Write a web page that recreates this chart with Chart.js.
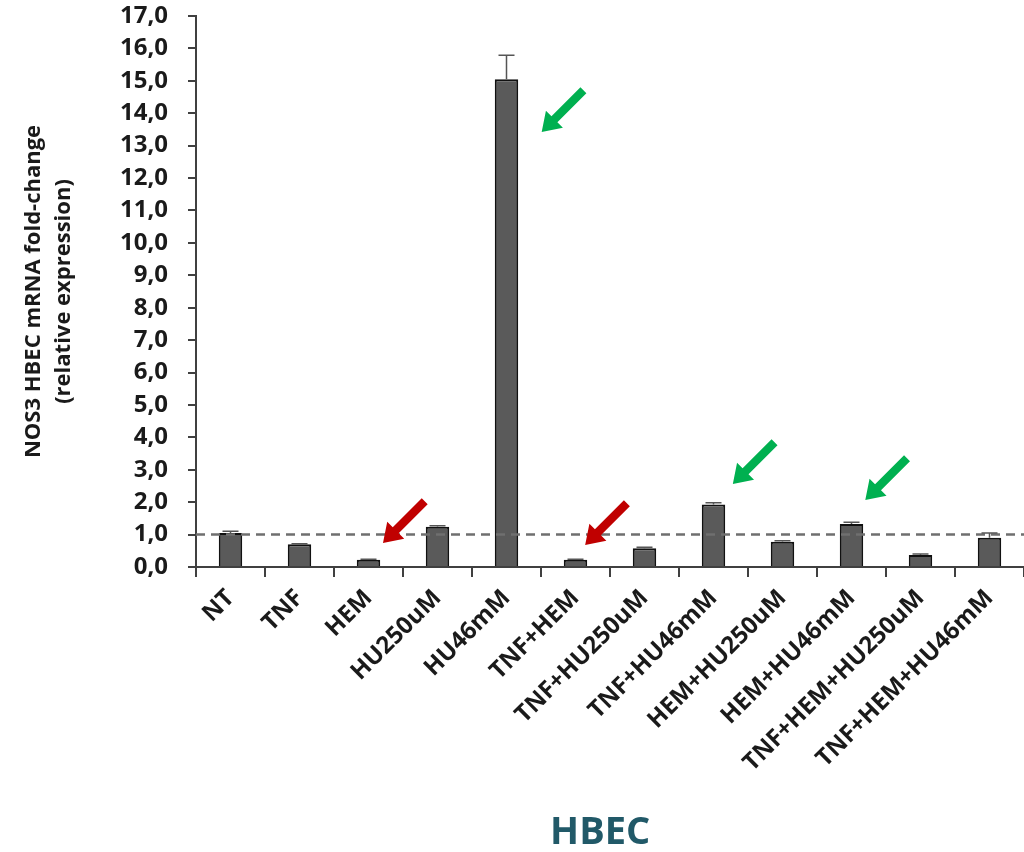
<!DOCTYPE html>
<html><head><meta charset="utf-8">
<script src="https://cdn.jsdelivr.net/npm/chart.js@4"></script>
<style>html,body{margin:0;padding:0;background:#fff}canvas{display:block}</style>
</head><body>
<canvas id="c" width="1024" height="852"></canvas>
<script>
// ---- data ----
const categories = ['NT','TNF','HEM','HU250uM','HU46mM','TNF+HEM','TNF+HU250uM','TNF+HU46mM','HEM+HU250uM','HEM+HU46mM','TNF+HEM+HU250uM','TNF+HEM+HU46mM'];
const foldChange = [1.05, 0.70, 0.22, 1.24, 15.05, 0.22, 0.58, 1.93, 0.78, 1.33, 0.37, 0.90];
const errorUp    = [0.05, 0.02, 0.02, 0.03, 0.74, 0.02, 0.03, 0.05, 0.03, 0.05, 0.03, 0.15];
const yTickLabels = ['0,0','1,0','2,0','3,0','4,0','5,0','6,0','7,0','8,0','9,0','10,0','11,0','12,0','13,0','14,0','15,0','16,0','17,0'];
const referenceLevel = 1.0;
// arrow annotations: tip position in data units (fractional category index, value)
const arrowCategoryPos = [2.21, 5.14, 4.51, 7.28, 9.20];
const arrowValuePos    = [0.74, 0.68, 13.42, 2.56, 2.07];
const arrowKind        = ['down', 'down', 'up', 'up', 'up'];

const arrowColors = {down: '#C00000', up: '#00B050'};

const refLinePlugin = {
  id: 'refLine',
  afterDatasetsDraw(chart) {
    const {ctx, chartArea, scales: {y}} = chart;
    const py = y.getPixelForValue(referenceLevel);
    ctx.save();
    ctx.strokeStyle = '#6f6f6f';
    ctx.lineWidth = 2.5;
    ctx.setLineDash([9, 6]);
    ctx.beginPath();
    ctx.moveTo(chartArea.left, py);
    ctx.lineTo(chartArea.right, py);
    ctx.stroke();
    ctx.restore();
  }
};

const errorBarPlugin = {
  id: 'errorBars',
  afterDatasetsDraw(chart) {
    const {ctx, scales: {y}} = chart;
    const meta = chart.getDatasetMeta(0);
    ctx.save();
    ctx.strokeStyle = '#555555';
    ctx.lineWidth = 1.5;
    meta.data.forEach((bar, i) => {
      const top = y.getPixelForValue(foldChange[i] + errorUp[i]);
      ctx.beginPath();
      ctx.moveTo(bar.x, bar.y);
      ctx.lineTo(bar.x, top);
      ctx.moveTo(bar.x - 8, top);
      ctx.lineTo(bar.x + 8, top);
      ctx.stroke();
    });
    ctx.restore();
  }
};

const arrowPlugin = {
  id: 'arrows',
  afterDraw(chart) {
    const {ctx, scales: {x, y}} = chart;
    const L = 59, h = 18, w = 12, s = 4.2;
    const r = Math.SQRT1_2;
    const d = [-r, r];      // direction tail -> tip
    const n = [r, r];       // perpendicular
    ctx.save();
    arrowCategoryPos.forEach((cx, i) => {
      const tx = x.getPixelForValue(cx);
      const ty = y.getPixelForValue(arrowValuePos[i]);
      const bx = tx - d[0] * h, by = ty - d[1] * h;
      const ex = tx - d[0] * L, ey = ty - d[1] * L;
      ctx.fillStyle = arrowColors[arrowKind[i]];
      ctx.beginPath();
      ctx.moveTo(ex + n[0] * s, ey + n[1] * s);
      ctx.lineTo(bx + n[0] * s, by + n[1] * s);
      ctx.lineTo(bx + n[0] * w, by + n[1] * w);
      ctx.lineTo(tx, ty);
      ctx.lineTo(bx - n[0] * w, by - n[1] * w);
      ctx.lineTo(bx - n[0] * s, by - n[1] * s);
      ctx.lineTo(ex - n[0] * s, ey - n[1] * s);
      ctx.closePath();
      ctx.fill();
    });
    ctx.restore();
  }
};

new Chart(document.getElementById('c'), {
  type: 'bar',
  data: {
    labels: categories,
    datasets: [{
      data: foldChange,
      backgroundColor: '#5a5a5a',
      borderColor: '#111111',
      borderWidth: 2,
      categoryPercentage: 1,
      barPercentage: 0.34
    }]
  },
  options: {
    responsive: false,
    animation: false,
    devicePixelRatio: 1,
    layout: {padding: {top: 0, right: 0, bottom: 0, left: 0}},
    plugins: {legend: {display: false}, tooltip: {enabled: false}},
    scales: {
      x: {
        grid: {display: true, drawOnChartArea: false, drawTicks: true, tickLength: 10, color: '#404040', lineWidth: 2, offset: true},
        border: {display: true, color: '#404040', width: 2},
        ticks: {maxRotation: 45, minRotation: 45, autoSkip: false, color: '#1a1a1a', padding: 7,
                font: {family: 'Open Sans', size: 24, weight: 'bold'}},
        title: {display: true, text: 'HBEC  ', color: '#215968',
                font: {family: 'Open Sans', size: 38, weight: 'bold', lineHeight: 1},
                padding: {top: 0, bottom: 0}},
        afterFit: (s) => { s.height = 285; }
      },
      y: {
        min: 0, max: 17,
        grid: {display: true, drawOnChartArea: false, drawTicks: true, tickLength: 8, color: '#404040', lineWidth: 2},
        border: {display: true, color: '#404040', width: 2},
        ticks: {stepSize: 1, autoSkip: false, color: '#1a1a1a', padding: 20,
                font: {family: 'Open Sans', size: 24, weight: 'bold'},
                callback: (v, i) => yTickLabels[i]},
        title: {display: true, text: ['NOS3 HBEC mRNA fold-change', '(relative expression)'], color: '#1a1a1a',
                font: {family: 'Open Sans', size: 22, weight: 'bold', lineHeight: 1.4},
                padding: {top: 18, bottom: 0}},
        afterFit: (s) => { s.width = 196; s.paddingTop = 16; s.paddingBottom = 0; }
      }
    }
  },
  plugins: [refLinePlugin, errorBarPlugin, arrowPlugin]
});
</script>
</body></html>
